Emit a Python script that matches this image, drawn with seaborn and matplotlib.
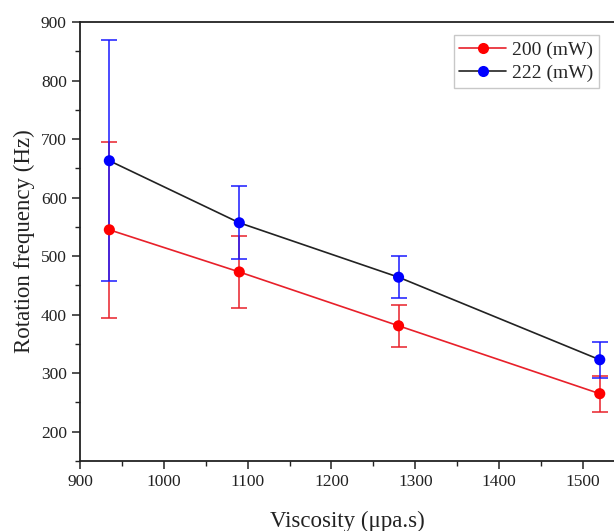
import numpy as np
import pandas as pd
import matplotlib
matplotlib.use('Agg')
import matplotlib.pyplot as plt
from matplotlib.lines import Line2D
from matplotlib.ticker import MultipleLocator
import seaborn as sns

# ── Data ───────────────────────────────────────────────────
viscosity = [935, 1090, 1280, 1520]
freq_200 = [545, 473, 381, 265]
err_200 = [150, 62, 36, 31]
freq_222 = [663, 557, 464, 323]
err_222 = [206, 62, 36, 31]
labels = ['200 (mW)', '222 (mW)']

df = pd.DataFrame({
    'Viscosity': viscosity * 2,
    'Freq': freq_200 + freq_222,
    'Power': [labels[0]] * 4 + [labels[1]] * 4,
})

# ── Style ──────────────────────────────────────────────────
sns.set_theme(style='ticks')
plt.rcParams['font.family'] = ['Liberation Serif', 'DejaVu Serif']

fig = plt.figure(figsize=(6.14, 5.31), dpi=100)
ax = fig.add_axes([80 / 614, 70 / 531, 534 / 614, 439 / 531])

# connecting lines
sns.lineplot(data=df, x='Viscosity', y='Freq', hue='Power',
             palette={labels[0]: '#e8202a', labels[1]: '#222222'},
             linewidth=1.2, legend=False, ax=ax, zorder=2)

# error bars
ax.errorbar(viscosity, freq_200, yerr=err_200, fmt='none', ecolor='#e8202a',
            elinewidth=1.1, capsize=6, capthick=1.1, zorder=3)
ax.errorbar(viscosity, freq_222, yerr=err_222, fmt='none', ecolor='#1a1aff',
            elinewidth=1.1, capsize=6, capthick=1.1, zorder=3)

# markers
sns.scatterplot(data=df, x='Viscosity', y='Freq', hue='Power',
                palette={labels[0]: '#ff0000', labels[1]: '#0000ff'},
                s=64, edgecolor='none', legend=False, ax=ax, zorder=4)

ax.set_xlim(900, 1537)
ax.set_ylim(150, 900)
ax.xaxis.set_major_locator(MultipleLocator(100))
ax.xaxis.set_minor_locator(MultipleLocator(50))
ax.yaxis.set_major_locator(MultipleLocator(100))
ax.yaxis.set_minor_locator(MultipleLocator(50))
ax.tick_params(which='major', direction='out', length=5.5, width=1.1, pad=4,
               labelsize=12.5, colors='#222222', labelcolor='#222222')
ax.tick_params(which='minor', direction='out', length=3.5, width=1.0,
               colors='#222222')
for side in ['left', 'bottom', 'top']:
    ax.spines[side].set_color('#222222')
    ax.spines[side].set_linewidth(1.3)
ax.spines['right'].set_visible(False)

ax.set_xlabel('Viscosity (μpa.s)', fontsize=16.5, color='#222222', labelpad=15)
ax.set_ylabel('Rotation frequency (Hz)', fontsize=16.5, color='#222222', labelpad=4)

handles = [
    Line2D([0], [0], color='#e8202a', lw=1.2, marker='o', markersize=8,
           markerfacecolor='#ff0000', markeredgecolor='none'),
    Line2D([0], [0], color='#222222', lw=1.2, marker='o', markersize=8,
           markerfacecolor='#0000ff', markeredgecolor='none'),
]
leg = ax.legend(handles, labels, loc='upper right', bbox_to_anchor=(0.972, 0.970),
                fontsize=14, frameon=True, fancybox=False, handlelength=2.4,
                handletextpad=0.3, borderpad=0.3, labelspacing=0.3,
                borderaxespad=0.0)
leg.get_frame().set_edgecolor('#bbbbbb')
leg.get_frame().set_linewidth(1.0)

fig.savefig('out.png', dpi=100)
